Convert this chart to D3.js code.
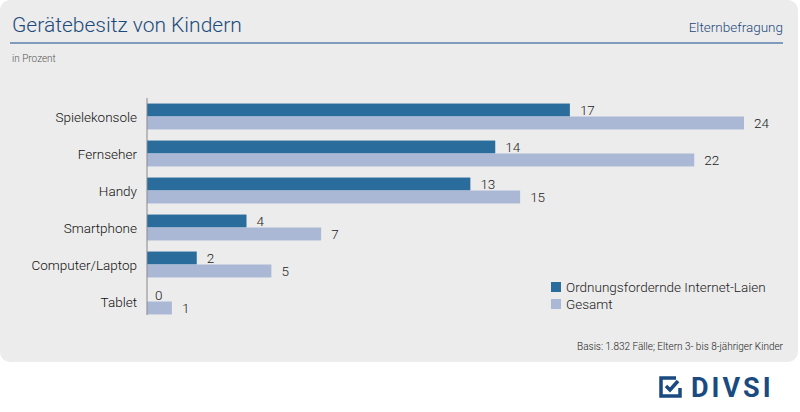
<!DOCTYPE html>
<html><head><meta charset="utf-8">
<script src="https://cdn.jsdelivr.net/npm/d3@7"></script>
<style>body{margin:0;background:#fff}text{font-family:Roboto,sans-serif}</style>
</head><body><svg id="c" width="800" height="412"></svg>
<script>
const categories=["Spielekonsole","Fernseher","Handy","Smartphone","Computer/Laptop","Tablet"];
const seriesNames=["Ordnungsfordernde Internet-Laien","Gesamt"];
const laien=[17,14,13,4,2,0];
const gesamt=[24,22,15,7,5,1];
const colors=["#2a6c9c","#aab8d6"];
const svg=d3.select("#c");
const ff='Roboto,sans-serif';
svg.append("rect").attr("x",0).attr("y",0).attr("width",798).attr("height",362).attr("rx",10).attr("fill","#ececec");
svg.append("text").attr("x",12).attr("y",32).attr("font-size",21).attr("font-weight",300).attr("fill","#1d4b7b").attr("font-family",ff).text("Gerätebesitz von Kindern");
svg.append("text").attr("x",783).attr("y",32).attr("text-anchor","end").attr("font-size",13.5).attr("font-weight",300).attr("fill","#1d4b7b").attr("font-family",ff).text("Elternbefragung");
svg.append("rect").attr("x",10).attr("y",42).attr("width",773).attr("height",2).attr("fill","#7f9cbc");
svg.append("text").attr("x",12).attr("y",62).attr("font-size",10).attr("font-weight",300).attr("fill","#555").attr("font-family",ff).text("in Prozent");
const x=d3.scaleLinear().domain([0,24]).range([147,744]);
const y=d3.scaleBand().domain(categories).range([98,320]).paddingInner(0.3).paddingOuter(0.15);
const y2=d3.scaleBand().domain([0,1]).range([0,y.bandwidth()]);
categories.forEach((c,i)=>{
  [laien[i],gesamt[i]].forEach((v,j)=>{
    const yy=y(c)+y2(j);
    svg.append("rect").attr("x",x(0)).attr("y",yy).attr("width",x(v)-x(0)).attr("height",y2.bandwidth()).attr("fill",colors[j]);
    svg.append("text").attr("x",x(v)+(v>0?10:8)).attr("y",yy+y2.bandwidth()/2+5).attr("font-size",13.5).attr("font-weight",300).attr("fill","#222").attr("font-family",ff).text(v);
  });
  svg.append("text").attr("x",137).attr("y",y(c)+y.bandwidth()/2+5).attr("text-anchor","end").attr("font-size",13.5).attr("font-weight",300).attr("fill","#111").attr("font-family",ff).text(c);
});
svg.append("line").attr("x1",x(0)).attr("x2",x(0)).attr("y1",98).attr("y2",315).attr("stroke","#888");
seriesNames.forEach((n,j)=>{
  svg.append("rect").attr("x",551).attr("y",282+j*17).attr("width",10).attr("height",10).attr("fill",colors[j]);
  svg.append("text").attr("x",566).attr("y",292+j*17).attr("font-size",13.5).attr("font-weight",300).attr("fill","#222").attr("font-family",ff).text(n);
});
svg.append("text").attr("x",783).attr("y",350).attr("text-anchor","end").attr("font-size",10).attr("font-weight",300).attr("fill","#222").attr("font-family",ff).text("Basis: 1.832 Fälle; Eltern 3- bis 8-jähriger Kinder");
const g=svg.append("g").attr("fill","none").attr("stroke","#1a4a80").attr("stroke-width",3.5);
g.append("path").attr("d","M676,378 L661,378 L661,396 L680,396 L680,388");
g.append("path").attr("d","M666,386 L670,390 L678,381");
svg.append("text").attr("x",691).attr("y",397).attr("font-size",27).attr("font-weight","bold").attr("fill","#1a4a80").attr("font-family",ff).attr("letter-spacing",3).text("DIVSI");
</script></body></html>
